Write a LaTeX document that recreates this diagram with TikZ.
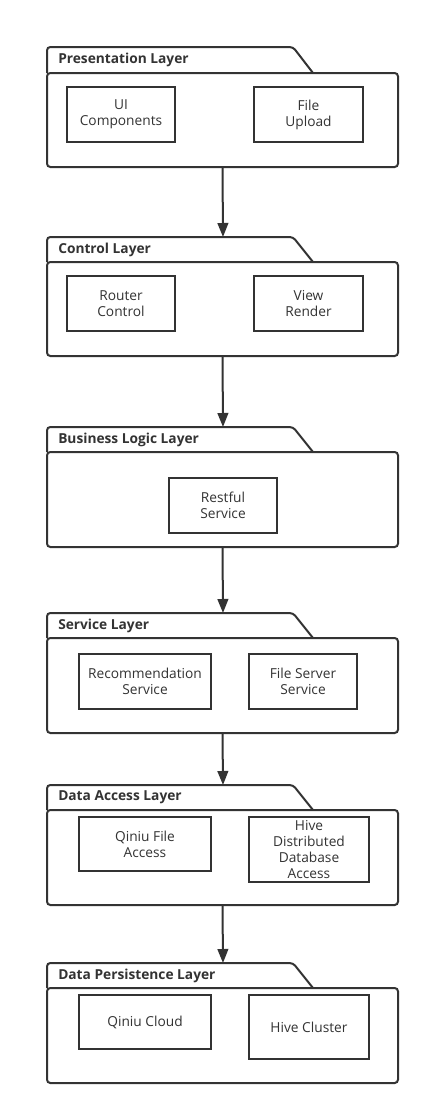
\documentclass[tikz,border=0pt]{standalone}
\usepackage{fontspec}
\setmainfont{Open Sans}
\usetikzlibrary{arrows.meta}
\definecolor{ink}{HTML}{333333}
\tikzset{
  lay/.style={draw=ink, line width=1.5pt, rounded corners=2.5pt},
  box/.style={draw=ink, line width=1.5pt, rectangle, inner sep=0pt, align=center, text=ink, font=\fontsize{10.3pt}{12pt}\selectfont},
  ttl/.style={anchor=west, inner sep=0pt, text=ink, font=\bfseries\fontsize{10.3pt}{12pt}\selectfont},
  conn/.style={draw=ink, line width=1.5pt, -{Triangle[length=10.5pt, width=8pt]}},
}
\newcommand\mylayer[5]{%
  % #1 name, #2 tab top, #3 body top, #4 body bottom, #5 title
  \draw[lay] (47,#3) -- (47,#2) -- (293,#2) -- (313,#3);
  \node[lay, draw, inner sep=0pt, minimum width=263.25pt, minimum height={(#4-#3)*0.75pt}] (#1) at (222.5,{(#3+#4)/2}) {};
  \coordinate (#1t) at (223,#2);
  \node[ttl] (#1n) at (58,{(#2+#3)/2}) {#5};
}
\begin{document}
\begin{tikzpicture}[x=0.75pt, y=-0.75pt]
\useasboundingbox[fill=white] (0,0) rectangle (430,1114);
\mylayer{L1}{47}{73}{167}{Presentation Layer}
\mylayer{L2}{237}{262}{356}{Control Layer}
\mylayer{L3}{427}{452}{547}{Business Logic Layer}
\mylayer{L4}{613}{638}{733}{Service Layer}
\mylayer{L5}{785}{810}{905}{Data Access Layer}
\mylayer{L6}{963}{988}{1083}{Data Persistence Layer}

\node[box, minimum width=81pt, minimum height=41.25pt] (ui) at (121,114.5) {UI\\Components};
\node[box, minimum width=81.75pt, minimum height=41.25pt] (fu) at (308.5,114.5) {File\\Upload};
\node[box, minimum width=81pt, minimum height=41.25pt] (rc) at (121,303.5) {Router\\Control};
\node[box, minimum width=81.75pt, minimum height=41.25pt] (vr) at (308.5,303.5) {View\\Render};
\node[box, minimum width=81pt, minimum height=41.25pt] (rs) at (223,505.5) {Restful\\Service};
\node[box, minimum width=99pt, minimum height=41.25pt] (rec) at (145,681.5) {Recommendation\\Service};
\node[box, minimum width=81pt, minimum height=41.25pt] (fss) at (303,681.5) {File Server\\Service};
\node[box, minimum width=99pt, minimum height=40.5pt] (qfa) at (145,844) {Qiniu File\\Access};
\node[box, minimum width=90pt, minimum height=48.75pt] (hda) at (309,849.5) {Hive\\Distributed\\Database\\Access};
\node[box, minimum width=99pt, minimum height=40.5pt] (qc) at (145,1022) {Qiniu Cloud};
\node[box, minimum width=90pt, minimum height=48pt] (hc) at (309,1027) {Hive Cluster};

\draw[conn] (L1.south) -- (L2t);
\draw[conn] (L2.south) -- (L3t);
\draw[conn] (L3.south) -- (L4t);
\draw[conn] (L4.south) -- (L5t);
\draw[conn] (L5.south) -- (L6t);
\end{tikzpicture}
\end{document}
